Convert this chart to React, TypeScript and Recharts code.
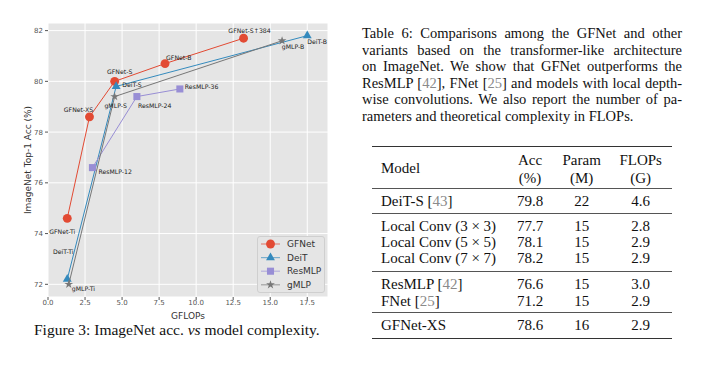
import React from "react";
import { ScatterChart, Scatter, XAxis, YAxis, CartesianGrid, Symbols } from "recharts";

// GFLOPs vs ImageNet top-1
const gfnetNames = ["GFNet-Ti", "GFNet-XS", "GFNet-S", "GFNet-B", "GFNet-S↑384"];
const gfnetFlops = [1.3, 2.8, 4.5, 7.9, 13.2];
const gfnetAcc = [74.6, 78.6, 80.0, 80.7, 81.7];

const deitNames = ["DeiT-Ti", "DeiT-S", "DeiT-B"];
const deitFlops = [1.3, 4.6, 17.5];
const deitAcc = [72.2, 79.8, 81.8];

const resmlpNames = ["ResMLP-12", "ResMLP-24", "ResMLP-36"];
const resmlpFlops = [3.0, 6.0, 8.9];
const resmlpAcc = [76.6, 79.4, 79.7];

const gmlpNames = ["gMLP-Ti", "gMLP-S", "gMLP-B"];
const gmlpFlops = [1.4, 4.5, 15.8];
const gmlpAcc = [72.0, 79.4, 81.6];

const xTicks = [0, 2.5, 5, 7.5, 10, 12.5, 15, 17.5];
const yTicks = [72, 74, 76, 78, 80, 82];

// table 6
const tableHeader = [["Model"], ["Acc", "(%)"], ["Param", "(M)"], ["FLOPs", "(G)"]];
const tableModels = ["DeiT-S", "Local Conv (3 × 3)", "Local Conv (5 × 5)", "Local Conv (7 × 7)", "ResMLP", "FNet", "GFNet-XS"];
const tableRefs = ["43", "", "", "", "42", "25", ""];
const tableAcc = ["79.8", "77.7", "78.1", "78.2", "76.6", "71.2", "78.6"];
const tableParam = ["22", "15", "15", "15", "15", "15", "16"];
const tableFlops = ["4.6", "2.8", "2.9", "2.9", "3.0", "2.9", "2.9"];

const zip = (names: string[], xs: number[], ys: number[]) =>
  names.map((name, i) => ({ name, x: xs[i], y: ys[i] }));

const series = [
  { key: "GFNet", color: "#E24A33", shape: "circle", size: 62, data: zip(gfnetNames, gfnetFlops, gfnetAcc) },
  { key: "DeiT", color: "#348ABD", shape: "triangle", size: 34, data: zip(deitNames, deitFlops, deitAcc) },
  { key: "ResMLP", color: "#988ED5", shape: "square", size: 50, data: zip(resmlpNames, resmlpFlops, resmlpAcc) },
  { key: "gMLP", color: "#777777", shape: "star", size: 24, data: zip(gmlpNames, gmlpFlops, gmlpAcc) },
];

const allPoints = series.flatMap((s) => s.data);

// where each annotation sits relative to its marker
const labelPos: Record<string, { dx: number; dy: number; anchor: string }> = {
  "GFNet-Ti": { dx: -5, dy: 13.5, anchor: "middle" },
  "GFNet-XS": { dx: -11, dy: -7.5, anchor: "middle" },
  "GFNet-S": { dx: 5, dy: -9.5, anchor: "middle" },
  "GFNet-B": { dx: 1, dy: -6.5, anchor: "start" },
  "GFNet-S↑384": { dx: 6, dy: -7.5, anchor: "middle" },
  "DeiT-Ti": { dx: -4, dy: -28, anchor: "middle" },
  "DeiT-S": { dx: 6, dy: -2, anchor: "start" },
  "DeiT-B": { dx: 0, dy: 6, anchor: "start" },
  "ResMLP-12": { dx: 6, dy: 3.5, anchor: "start" },
  "ResMLP-24": { dx: 1, dy: 8.5, anchor: "start" },
  "ResMLP-36": { dx: 5, dy: -2, anchor: "start" },
  "gMLP-Ti": { dx: 3, dy: 4, anchor: "start" },
  "gMLP-S": { dx: 1, dy: 8.5, anchor: "middle" },
  "gMLP-B": { dx: 11, dy: 6, anchor: "middle" },
};

const sans = "'DejaVu Sans', sans-serif";
const serif = "'Liberation Serif', 'Times New Roman', serif";

const PointLabel = (p: any) => {
  const pos = labelPos[p.payload.name] || { dx: 0, dy: 0, anchor: "start" };
  return (
    <text
      x={p.cx + pos.dx}
      y={p.cy + pos.dy}
      textAnchor={pos.anchor}
      dominantBaseline="central"
      fontSize={6.2}
      fontFamily={sans}
      fill="#222"
    >
      {p.payload.name}
    </text>
  );
};

function Legend() {
  return (
    <div
      style={{
        position: "absolute",
        left: 257,
        top: 236,
        width: 66,
        height: 55,
        background: "#E5E5E5",
        border: "1px solid #CFCFCF",
        borderRadius: 3,
      }}
    >
      <svg width={66} height={55}>
        {series.map((s, i) => {
          const cy = 7 + i * 13.6;
          return (
            <g key={s.key}>
              <line x1={3} x2={22} y1={cy} y2={cy} stroke={s.color} strokeWidth={1.2} strokeOpacity={0.6} />
              <Symbols cx={12.5} cy={cy} type={s.shape as any} size={s.size} fill={s.color} />
              <text x={29} y={cy} dominantBaseline="central" fontSize={9} fontFamily={sans} fill="#333">
                {s.key}
              </text>
            </g>
          );
        })}
      </svg>
    </div>
  );
}

function Chart() {
  return (
    <div style={{ position: "absolute", left: 0, top: 0, width: 340, height: 330 }}>
      <ScatterChart width={340} height={330} margin={{ top: 23, right: 12, left: 18, bottom: 3 }}>
        <CartesianGrid stroke="#FFFFFF" strokeWidth={1} fill="#E5E5E5" />
        <XAxis
          type="number"
          dataKey="x"
          domain={[0, 18.9]}
          ticks={xTicks}
          tickFormatter={(v: number) => v.toFixed(1)}
          allowDataOverflow
          axisLine={false}
          tickSize={3}
          tickMargin={0}
          height={30}
          tickLine={{ stroke: "#555" }}
          tick={{ fontSize: 7, fill: "#555", fontFamily: sans }}
          label={{ value: "GFLOPs", position: "insideBottom", offset: 8, fontSize: 9, fill: "#333", fontFamily: sans }}
        />
        <YAxis
          type="number"
          dataKey="y"
          domain={[71.5, 82.3]}
          ticks={yTicks}
          allowDataOverflow
          axisLine={false}
          tickSize={3}
          width={30}
          tickLine={{ stroke: "#555" }}
          tick={{ fontSize: 7, fill: "#555", fontFamily: sans }}
          label={{
            value: "ImageNet Top-1 Acc (%)",
            angle: -90,
            position: "insideLeft",
            offset: 10,
            fontSize: 9,
            fill: "#333",
            fontFamily: sans,
            style: { textAnchor: "middle" },
          }}
        />
        {series.map((s) => (
          <Scatter
            key={s.key}
            name={s.key}
            data={s.data}
            fill={s.color}
            line={{ stroke: s.color, strokeWidth: 1 }}
            lineType="joint"
            isAnimationActive={false}
            shape={(p: any) => <Symbols cx={p.cx} cy={p.cy} type={s.shape as any} size={s.size} fill={s.color} />}
          />
        ))}
        <Scatter
          name="labels"
          data={allPoints}
          isAnimationActive={false}
          legendType="none"
          shape={PointLabel}
        />
      </ScatterChart>
      <Legend />
    </div>
  );
}

const Cite = ({ n }: { n: string }) => (
  <span>
    [<span style={{ color: "#8a8a8a" }}>{n}</span>]
  </span>
);

const captionLines: React.ReactNode[] = [
  <>Table 6: Comparisons among the GFNet and other</>,
  <>variants based on the transformer-like architecture</>,
  <>on ImageNet. We show that GFNet outperforms the</>,
  <>
    ResMLP <Cite n="42" />, FNet <Cite n="25" /> and models with local depth-
  </>,
  <>wise convolutions. We also report the number of pa-</>,
  <>rameters and theoretical complexity in FLOPs.</>,
];

const rowTops = [200.7, 225.7, 242.3, 258.3, 284, 300.7, 325];
const ruleTops = [146.7, 188.3, 213.3, 271.7, 312.7, 338.3];
const colCenters = [0, 530, 581.7, 640.7];

function Table() {
  const cell = (cx: number, cy: number, content: React.ReactNode, key: string, align = "center") => (
    <div
      key={key}
      style={{
        position: "absolute",
        left: align === "center" ? cx - 40 : cx,
        width: align === "center" ? 80 : 200,
        top: cy - 9,
        height: 18,
        lineHeight: "18px",
        textAlign: align as any,
        whiteSpace: "nowrap",
      }}
    >
      {content}
    </div>
  );
  const heavy = (i: number) => i === 0 || i === ruleTops.length - 1;
  return (
    <div style={{ fontFamily: serif, fontSize: 15, color: "#111" }}>
      {ruleTops.map((t, i) => (
        <div
          key={"r" + i}
          style={{
            position: "absolute",
            left: 372,
            width: 300,
            top: t - (heavy(i) ? 0.8 : 0.5),
            height: heavy(i) ? 1.6 : 1,
            background: heavy(i) ? "#333" : "#555",
          }}
        />
      ))}
      {cell(381, 167.7, tableHeader[0][0], "hm", "left")}
      {tableHeader.slice(1).map((h, i) => (
        <React.Fragment key={"h" + i}>
          {cell(colCenters[i + 1], 160, h[0], "ha" + i)}
          {cell(colCenters[i + 1], 177.7, h[1], "hb" + i)}
        </React.Fragment>
      ))}
      {tableModels.map((m, i) => (
        <React.Fragment key={"row" + i}>
          {cell(381, rowTops[i], tableRefs[i] ? <>{m} <Cite n={tableRefs[i]} /></> : m, "m" + i, "left")}
          {cell(colCenters[1], rowTops[i], tableAcc[i], "a" + i)}
          {cell(colCenters[2], rowTops[i], tableParam[i], "p" + i)}
          {cell(colCenters[3], rowTops[i], tableFlops[i], "f" + i)}
        </React.Fragment>
      ))}
    </div>
  );
}

export default function App() {
  return (
    <div
      style={{
        position: "absolute",
        left: 0,
        top: 0,
        width: 727,
        height: 366,
        background: "#fff",
        overflow: "hidden",
      }}
    >
      <Chart />
      <div
        style={{
          position: "absolute",
          left: 34,
          top: 320,
          width: 290,
          fontFamily: serif,
          fontSize: 15.5,
          lineHeight: "20px",
          color: "#111",
          whiteSpace: "nowrap",
        }}
      >
        Figure 3: ImageNet acc. <i>vs</i> model complexity.
      </div>
      <div
        style={{
          position: "absolute",
          left: 362,
          top: 25,
          width: 320,
          fontFamily: serif,
          fontSize: 14.5,
          lineHeight: "16.6px",
          color: "#111",
        }}
      >
        {captionLines.map((l, i) => (
          <div
            key={i}
            style={{
              textAlign: "justify",
              textAlignLast: i === captionLines.length - 1 ? "left" : "justify",
              whiteSpace: "nowrap",
            }}
          >
            {l}
          </div>
        ))}
      </div>
      <Table />
    </div>
  );
}
